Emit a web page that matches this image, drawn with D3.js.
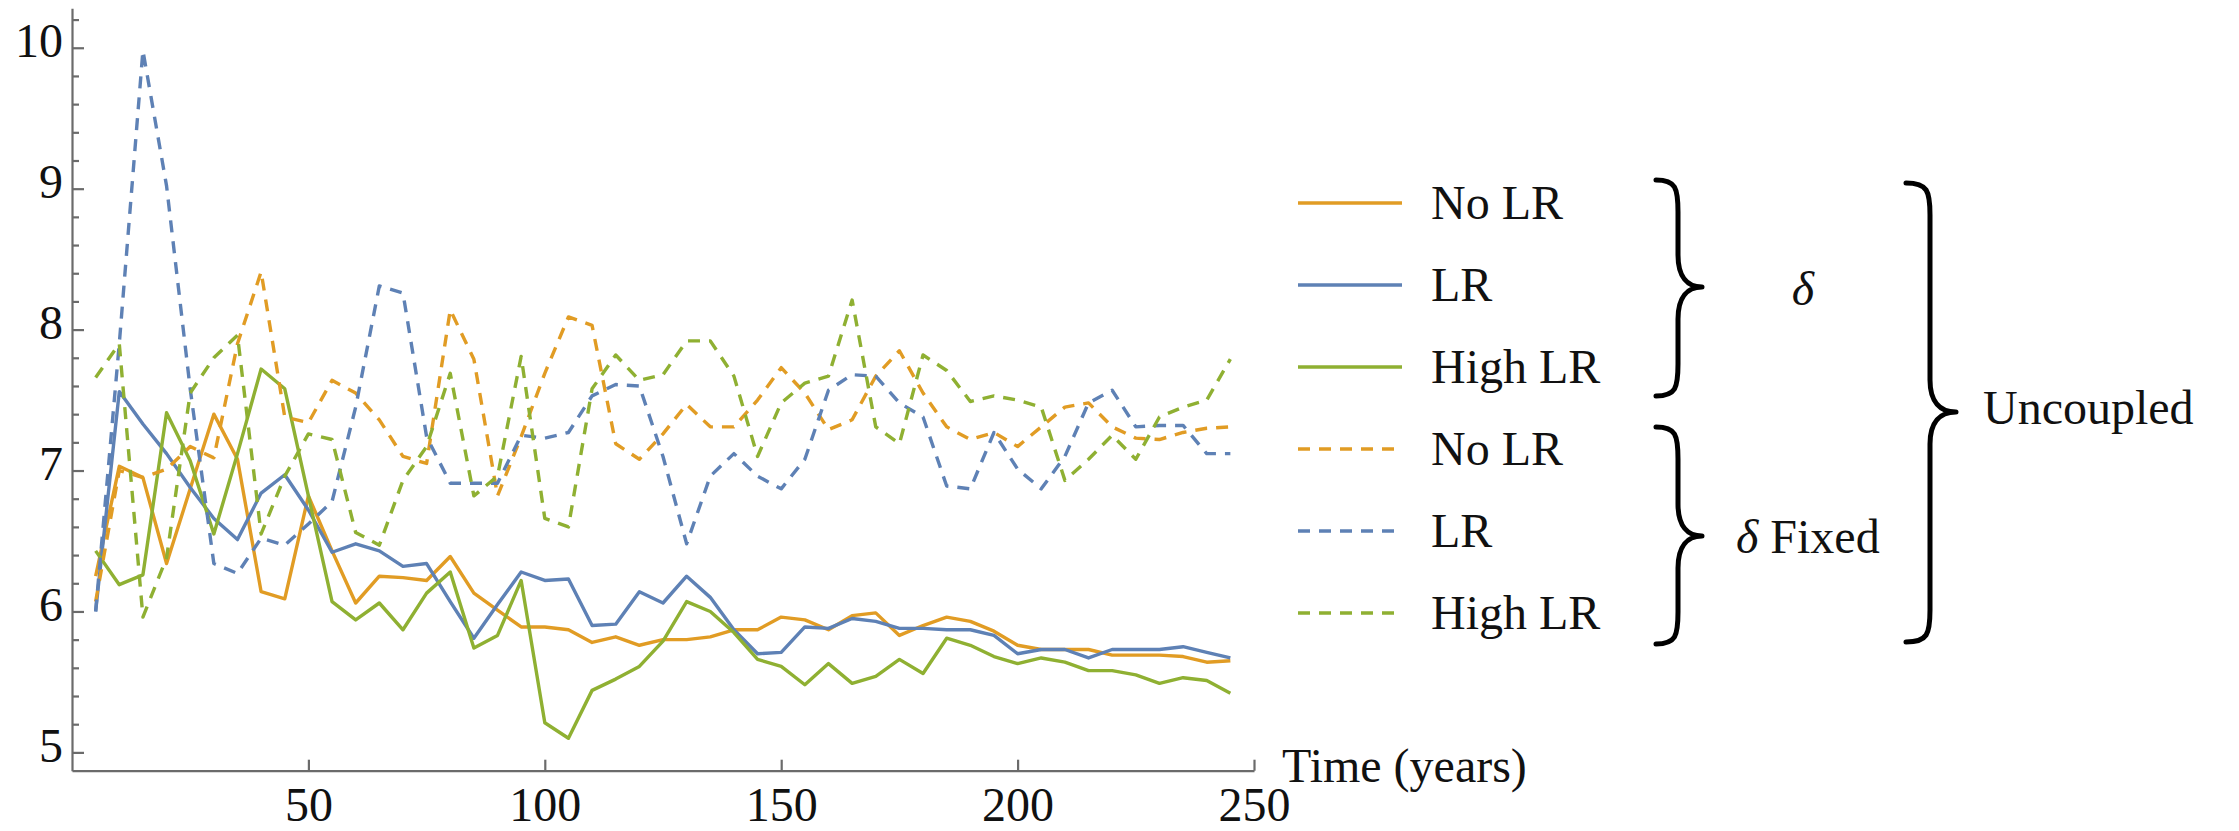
<!DOCTYPE html>
<meta charset="utf-8">
<style>

body { margin: 0; background: #fff; }

svg text {
  font-family: "Liberation Serif", "Tinos", "Times New Roman", "DejaVu Serif", "Noto Serif", serif !important;
  font-size: 48px;
  fill: #111;
}

.axis path, .axis line {
  stroke: #6b6b6b;
  stroke-width: 2.2px;
}

.series {
  fill: none;
  stroke-width: 3.4px;
  stroke-linejoin: round;
}

.dashed { stroke-dasharray: 12,9; }

.brace {
  fill: none;
  stroke: #000;
  stroke-width: 5px;
  stroke-linecap: round;
  stroke-linejoin: round;
}

</style>
<svg width="2239" height="831"></svg>
<script src="https://d3js.org/d3.v7.min.js"></script>
<script>

// time axis (years), one point every 5 years
var years = [5, 10, 15, 20, 25, 30, 35, 40, 45, 50,
             55, 60, 65, 70, 75, 80, 85, 90, 95, 100,
             105, 110, 115, 120, 125, 130, 135, 140, 145, 150,
             155, 160, 165, 170, 175, 180, 185, 190, 195, 200,
             205, 210, 215, 220, 225, 230, 235, 240, 245];

// delta
var noLR = [6.25, 7.03, 6.95, 6.34, 6.87, 7.40, 7.08, 6.14, 6.09, 6.82,
            6.43, 6.06, 6.25, 6.24, 6.22, 6.39, 6.13, 6.01, 5.89, 5.89,
            5.87, 5.78, 5.82, 5.76, 5.80, 5.80, 5.82, 5.87, 5.87, 5.96,
            5.94, 5.87, 5.97, 5.99, 5.83, 5.90, 5.96, 5.93, 5.86, 5.76,
            5.73, 5.73, 5.73, 5.69, 5.69, 5.69, 5.68, 5.64, 5.65];

var LR = [6.00, 7.56, 7.33, 7.12, 6.88, 6.66, 6.51, 6.84, 6.97, 6.72,
          6.42, 6.48, 6.43, 6.32, 6.34, 6.07, 5.81, 6.05, 6.28, 6.22,
          6.23, 5.90, 5.91, 6.14, 6.06, 6.25, 6.10, 5.87, 5.70, 5.71,
          5.89, 5.88, 5.95, 5.93, 5.88, 5.88, 5.87, 5.87, 5.83, 5.70,
          5.73, 5.73, 5.67, 5.73, 5.73, 5.73, 5.75, 5.71, 5.67];

var highLR = [6.43, 6.19, 6.26, 7.41, 7.07, 6.55, 7.12, 7.72, 7.58, 6.82,
              6.07, 5.94, 6.06, 5.87, 6.13, 6.28, 5.74, 5.83, 6.22, 5.21,
              5.10, 5.44, 5.52, 5.61, 5.79, 6.07, 6.00, 5.85, 5.66, 5.61,
              5.48, 5.63, 5.49, 5.54, 5.66, 5.56, 5.81, 5.76, 5.68, 5.63,
              5.67, 5.64, 5.58, 5.58, 5.55, 5.49, 5.53, 5.51, 5.42];

// delta fixed
var noLRFixed = [6.07, 7.00, 6.95, 7.01, 7.17, 7.09, 7.90, 8.41, 7.38, 7.34,
                 7.64, 7.55, 7.36, 7.10, 7.05, 8.14, 7.79, 6.82, 7.24, 7.69,
                 8.09, 8.03, 7.19, 7.08, 7.26, 7.47, 7.31, 7.31, 7.50, 7.73,
                 7.55, 7.29, 7.36, 7.67, 7.85, 7.55, 7.31, 7.22, 7.27, 7.17,
                 7.31, 7.45, 7.48, 7.31, 7.23, 7.22, 7.27, 7.30, 7.31];

var LRFixed = [6.00, 7.90, 9.98, 9.02, 7.58, 6.34, 6.27, 6.52, 6.47, 6.62,
               6.78, 7.45, 8.31, 8.26, 7.24, 6.91, 6.91, 6.91, 7.25, 7.23,
               7.27, 7.53, 7.61, 7.60, 7.10, 6.48, 6.96, 7.12, 6.96, 6.87,
               7.08, 7.57, 7.68, 7.67, 7.48, 7.38, 6.89, 6.87, 7.27, 7.01,
               6.87, 7.10, 7.48, 7.57, 7.31, 7.32, 7.32, 7.12, 7.12];

var highLRFixed = [7.66, 7.90, 5.96, 6.38, 7.55, 7.80, 7.96, 6.55, 6.96, 7.26,
                   7.22, 6.56, 6.47, 6.93, 7.17, 7.69, 6.82, 6.96, 7.81, 6.66,
                   6.60, 7.58, 7.82, 7.64, 7.68, 7.92, 7.92, 7.67, 7.10, 7.48,
                   7.62, 7.67, 8.21, 7.31, 7.19, 7.82, 7.71, 7.49, 7.53, 7.50,
                   7.45, 6.93, 7.08, 7.25, 7.08, 7.38, 7.45, 7.50, 7.79];

var xTicks = [50, 100, 150, 200, 250];
var yTicks = [5, 6, 7, 8, 9, 10];

var seriesNames = ["No LR", "LR", "High LR", "No LR", "LR", "High LR"];
var seriesValues = [noLR, LR, highLR, noLRFixed, LRFixed, highLRFixed];
var seriesColors = ["#E19C24", "#5E81B5", "#8FB032", "#E19C24", "#5E81B5", "#8FB032"];
var seriesDashed = [false, false, false, true, true, true];

var svg = d3.select("svg"),
    width = +svg.attr("width"),
    height = +svg.attr("height");

svg.append("rect").attr("width", width).attr("height", height).attr("fill", "#fff");

var x = d3.scaleLinear().domain([0, 250]).range([72, 1254]);
var y = d3.scaleLinear().domain([4.87, 10.28]).range([770.7, 8.3]);

// y axis: major ticks with labels, minor ticks every 0.2
svg.append("g")
    .attr("class", "axis")
    .attr("transform", "translate(" + x(0) + ",0)")
    .call(d3.axisLeft(y).tickValues(yTicks).tickSize(-12).tickSizeOuter(0).tickPadding(9)
      .tickFormat(d3.format("d")))
  .selectAll("text")
    .attr("dy", "0.18em");

var minor = d3.range(5.2, 10.3, 0.2).filter(function(v) { return Math.abs(v - Math.round(v)) > 0.01; });
svg.append("g")
    .attr("class", "axis")
    .attr("transform", "translate(" + x(0) + ",0)")
    .call(d3.axisLeft(y).tickValues(minor).tickSize(-7).tickFormat(""))
  .select(".domain").remove();

// x axis
svg.append("g")
    .attr("class", "axis")
    .attr("transform", "translate(0," + y(4.87) + ")")
    .call(d3.axisBottom(x).tickValues(xTicks).tickSize(-11).tickSizeOuter(0).tickPadding(16));

svg.selectAll(".axis").attr("font-family", null).attr("font-size", null);

svg.append("text")
    .attr("x", 1282)
    .attr("y", 782)
    .text("Time (years)");

// lines
var line = d3.line()
    .x(function(d, i) { return x(years[i]); })
    .y(function(d) { return y(d); });

svg.append("g")
  .selectAll("path")
  .data(seriesValues)
  .enter().append("path")
    .attr("class", function(d, i) { return seriesDashed[i] ? "series dashed" : "series"; })
    .attr("stroke", function(d, i) { return seriesColors[i]; })
    .attr("d", line);

// legend
var legend = svg.append("g")
  .selectAll("g")
  .data(seriesNames)
  .enter().append("g")
    .attr("transform", function(d, i) { return "translate(0," + (203 + i * 82) + ")"; });

legend.append("line")
    .attr("class", function(d, i) { return seriesDashed[i] ? "series dashed" : "series"; })
    .attr("x1", 1298)
    .attr("x2", 1402)
    .attr("stroke", function(d, i) { return seriesColors[i]; });

legend.append("text")
    .attr("x", 1431)
    .attr("y", 16)
    .text(function(d) { return d; });

// curly braces
function brace(x0, xm, xt, yTop, yTip, yBot) {
  var p = d3.path();
  p.moveTo(x0, yTop);
  p.bezierCurveTo(x0 + (xm - x0) * 0.9, yTop, xm, yTop + 8, xm, yTop + 32);
  p.lineTo(xm, yTip - 32);
  p.bezierCurveTo(xm, yTip - 10, xm + (xt - xm) * 0.4, yTip, xt, yTip);
  p.bezierCurveTo(xm + (xt - xm) * 0.4, yTip, xm, yTip + 10, xm, yTip + 32);
  p.lineTo(xm, yBot - 32);
  p.bezierCurveTo(xm, yBot - 8, x0 + (xm - x0) * 0.9, yBot, x0, yBot);
  return p.toString();
}

svg.append("path").attr("class", "brace").attr("d", brace(1656, 1678, 1702, 180, 287, 396));
svg.append("path").attr("class", "brace").attr("d", brace(1656, 1678, 1702, 427, 536, 644));
svg.append("path").attr("class", "brace").attr("d", brace(1906, 1930, 1956, 183, 412, 642));

svg.append("text")
    .attr("x", 1803)
    .attr("y", 305)
    .attr("text-anchor", "middle")
    .style("font-style", "italic")
    .text("δ");

svg.append("text")
    .attr("x", 1736)
    .attr("y", 553)
    .html('<tspan font-style="italic">δ</tspan> Fixed');

svg.append("text")
    .attr("x", 1983)
    .attr("y", 424)
    .text("Uncoupled");

</script>
